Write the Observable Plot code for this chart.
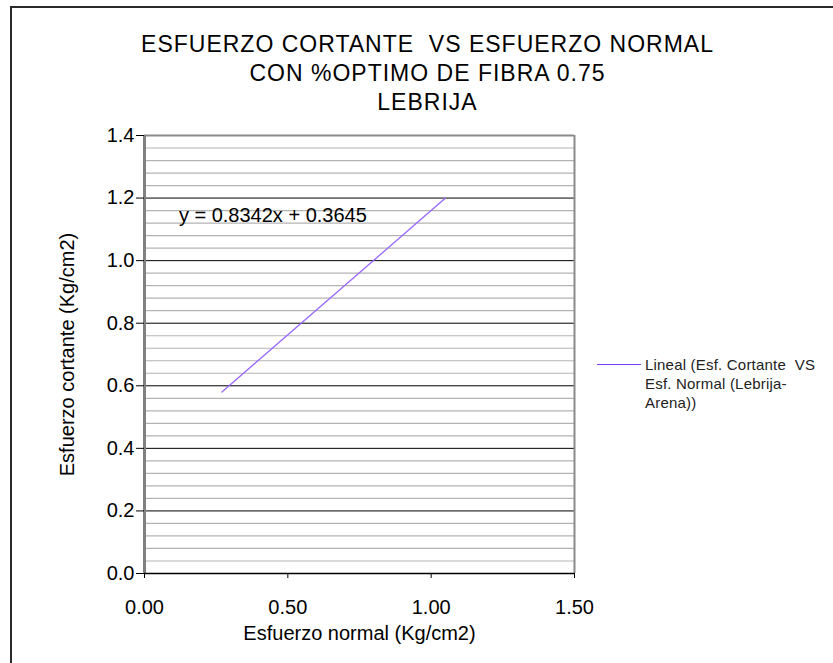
<!DOCTYPE html>
<html>
<head>
<meta charset="utf-8">
<script src="https://cdn.jsdelivr.net/npm/d3@7"></script>
<script src="https://cdn.jsdelivr.net/npm/@observablehq/plot@0.6"></script>
<style>
  html, body { margin: 0; padding: 0; background: #fff; overflow: hidden; }
  #wrap { position: relative; width: 833px; height: 663px; overflow: hidden; font-family: "Liberation Sans", Arial, sans-serif; }
  #frame { position: absolute; left: 10px; top: 6px; width: 900px; height: 900px; border: 2px solid #2a2a2a; box-sizing: border-box; }
  #title { position: absolute; left: 0; width: 855px; top: 30px; text-align: center; font-size: 23px; letter-spacing: 1px; line-height: 29px; color: #000; }
  #legend { position: absolute; left: 597px; top: 355px; font-size: 15px; letter-spacing: 0.2px; line-height: 19px; color: #222; }
  #legend .sw { position: absolute; left: 0; top: 9px; width: 44px; height: 0; border-top: 1.5px solid #7a3cff; }
  #legend .tx { position: absolute; left: 48px; top: 0; width: 220px; }
  #chart { position: absolute; left: 0; top: 0; }
</style>
</head>
<body>
<div id="wrap">
  <div id="frame"></div>
  <div id="chart"></div>
  <div id="title">ESFUERZO CORTANTE&nbsp; VS ESFUERZO NORMAL<br>CON %OPTIMO DE FIBRA 0.75<br>LEBRIJA</div>
  <div id="legend"><div class="sw"></div><div class="tx">Lineal (Esf. Cortante&nbsp; VS<br>Esf. Normal (Lebrija-<br>Arena))</div></div>
</div>
<script>
// Trend line endpoints
const normal = [0.27, 1.05];      // Esfuerzo normal (Kg/cm2)
const cortante = [0.58, 1.20];    // Esfuerzo cortante (Kg/cm2)
const equation = "y = 0.8342x + 0.3645";
// Axis ticks
const xTicks = [0, 0.5, 1.0, 1.5];
const yMajor = [0, 0.2, 0.4, 0.6, 0.8, 1.0, 1.2, 1.4];
const yMinor = d3.range(0.04, 1.4, 0.04).filter(v => Math.abs(v / 0.2 - Math.round(v / 0.2)) > 1e-6);

const line = normal.map((x, i) => ({x, y: cortante[i]}));

const chart = Plot.plot({
  width: 833,
  height: 663,
  marginLeft: 144,
  marginRight: 259,
  marginTop: 135,
  marginBottom: 90,
  style: {fontFamily: "'Liberation Sans', Arial, sans-serif", background: "transparent", overflow: "visible"},
  x: {domain: [0, 1.5], ticks: xTicks},
  y: {domain: [0, 1.4], ticks: yMajor},
  marks: [
    Plot.ruleY(yMinor, {stroke: "#b3b3b3", strokeWidth: 1.2}),
    Plot.ruleY(yMajor.filter(v => v > 0 && v < 1.4), {stroke: "#000", strokeWidth: 1}),
    Plot.ruleY([1.4], {stroke: "#8a8a8a", strokeWidth: 2}),
    Plot.ruleX([0], {stroke: "#808080", strokeWidth: 3}),
    Plot.ruleX([1.5], {stroke: "#8a8a8a", strokeWidth: 2}),
    Plot.ruleY([0], {stroke: "#000", strokeWidth: 1.5}),
    Plot.axisY({ticks: yMajor, tickFormat: d3.format(".1f"), tickSize: 8, tickPadding: 2, fontSize: 20, fill: "#000", label: null}),
    Plot.axisX({ticks: xTicks, tickFormat: d3.format(".2f"), tickSize: 5, tickPadding: 21, fontSize: 20, fill: "#000", label: null}),
    Plot.text(["Esfuerzo normal (Kg/cm2)"], {frameAnchor: "bottom", dy: 66, fontSize: 20, fill: "#000"}),
    Plot.text(["Esfuerzo cortante (Kg/cm2)"], {frameAnchor: "left", textAnchor: "middle", dx: -77, rotate: -90, fontSize: 20, fill: "#000"}),
    Plot.line(line, {x: "x", y: "y", stroke: "#9966ff", strokeWidth: 1.3}),
    Plot.text([equation], {x: () => 0.12, y: () => 1.145, textAnchor: "start", fontSize: 20, fill: "#000"})
  ]
});
document.getElementById("chart").appendChild(chart);
</script>
</body>
</html>
